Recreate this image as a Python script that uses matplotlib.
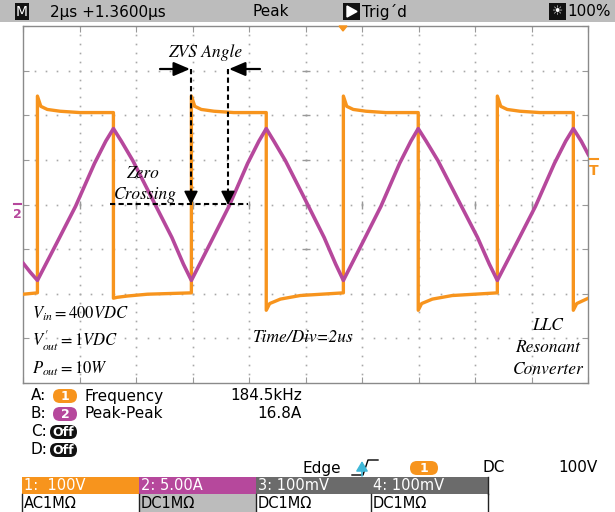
import numpy as np
import matplotlib.pyplot as plt
from matplotlib.patches import Rectangle, FancyBboxPatch, Polygon

plt.rcParams['mathtext.fontset'] = 'stix'

# CH1 switch-node voltage (V) and CH2 resonant current (A); time in us
v_time = [0.00, 0.50, 0.50, 0.62, 0.85, 1.30, 2.00, 3.19, 3.19, 3.32, 3.70, 4.40, 5.95,
          5.95, 6.07, 6.30, 6.75, 7.45, 8.60, 8.60, 8.72, 9.10, 9.80, 11.33,
          11.33, 11.45, 11.68, 12.13, 12.83, 13.98, 13.98, 14.10, 14.48, 15.18, 16.78,
          16.78, 16.90, 17.13, 17.58, 18.28, 19.47, 19.47, 19.59, 20.00]
v_volt = [-201, -198, 243, 220, 213, 209, 206, 206, -210, -208, -205, -201, -198,
          243, 220, 213, 209, 206, 206, -237, -222, -212, -204, -198,
          243, 220, 213, 209, 206, 206, -237, -222, -212, -204, -198,
          243, 220, 213, 209, 206, 206, -237, -222, -210]

i_time = [0.00, 0.25, 0.50,
          1.17, 1.85, 2.52, 2.92, 3.19,
          3.47, 3.88, 4.57, 5.26, 5.67, 5.95,
          6.61, 7.28, 7.94, 8.34, 8.60,
          8.87, 9.28, 9.97, 10.65, 11.06, 11.33,
          11.99, 12.66, 13.32, 13.72, 13.98,
          14.26, 14.68, 15.38, 16.08, 16.50, 16.78,
          17.45, 18.13, 18.80, 19.20, 19.47,
          19.75, 20.00]
i_amp = [-6.6, -7.6, -8.5,
         -4.4, -0.2, 4.6, 7.1, 8.5,
         7.1, 4.9, 0.6, -3.7, -6.7, -8.5,
         -4.4, -0.2, 4.6, 7.1, 8.5,
         7.1, 4.9, 0.6, -3.7, -6.7, -8.5,
         -4.4, -0.2, 4.6, 7.1, 8.5,
         7.1, 4.9, 0.6, -3.7, -6.7, -8.5,
         -4.4, -0.2, 4.6, 7.1, 8.5,
         7.1, 5.6]

meas_names = ['A:', 'B:', 'C:', 'D:']
meas_chan = ['1', '2', 'Off', 'Off']
meas_labels = ['Frequency', 'Peak-Peak', '', '']
meas_values = ['184.5kHz', '16.8A', '', '']
chan_labels = ['1:  100V', '2: 5.00A', '3: 100mV', '4: 100mV']
chan_coupling = ['AC1M\u03a9', 'DC1M\u03a9', 'DC1M\u03a9', 'DC1M\u03a9']

VOLT_DIV = 100.0
AMP_DIV = 5.0
ORANGE = '#f7941d'
PURPLE = '#b6489c'
UI = ['DejaVu Sans']
SERIF = 'STIXGeneral'

W, H = 615, 512
fig = plt.figure(figsize=(W / 100, H / 100), dpi=100)

# screen graticule
ax = fig.add_axes([23.3 / W, 1 - 383 / H, 565 / W, 357 / H], zorder=1)
ax.set_xlim(0, 20)
ax.set_ylim(-4, 4)
for s in ax.spines.values():
    s.set_color('#8a8a8a')
    s.set_linewidth(1)
ax.set_xticks(np.arange(0, 21, 2))
ax.set_yticks(np.arange(-4, 5, 1))
ax.tick_params(direction='in', length=4, color='#999999', labelbottom=False,
               labelleft=False, top=True, right=True)
xd = np.arange(0, 20.001, 0.4)
yd = np.arange(-4, 4.001, 0.2)
for j in range(-3, 4):
    ax.plot(xd, np.full_like(xd, j), ls='none', marker='s', ms=1.2, mew=0, color='#a8a8a8')
for k in range(2, 20, 2):
    ax.plot(np.full_like(yd, k), yd, ls='none', marker='s', ms=1.2, mew=0, color='#a8a8a8')
ax.plot(np.full(7, 10.0), np.arange(-3, 4), ls='none', marker='_', ms=6, color='#999999')
ax.plot(np.arange(2, 20, 2), np.zeros(9), ls='none', marker='|', ms=6, color='#999999')

ax.plot(v_time, np.array(v_volt) / VOLT_DIV, color=ORANGE, lw=2.4, zorder=3)
ax.plot(i_time, np.array(i_amp) / AMP_DIV, color=PURPLE, lw=2.6, zorder=4)

# overlay in pixel coordinates for annotations and scope chrome
ov = fig.add_axes([0, 0, 1, 1], zorder=2)
ov.set_xlim(0, W)
ov.set_ylim(H, 0)
ov.axis('off')
ov.patch.set_alpha(0)

# annotations
dash = (0, (2.5, 1.6))
ov.plot([110, 248], [204, 204], color='k', lw=1.5, ls=dash)
for x in [191, 228]:
    ov.plot([x, x], [69, 198], color='k', lw=1.5, ls=dash)
    ov.annotate('', xy=(x, 205), xytext=(x, 196),
                arrowprops=dict(arrowstyle='-|>,head_length=0.6,head_width=0.3',
                                color='k', lw=1.2, mutation_scale=14, shrinkA=0, shrinkB=0))
ov.annotate('', xy=(190, 69), xytext=(160, 69),
            arrowprops=dict(arrowstyle='-|>,head_length=0.7,head_width=0.3',
                            color='k', lw=1.6, mutation_scale=14, shrinkA=0, shrinkB=0))
ov.annotate('', xy=(229, 69), xytext=(260, 69),
            arrowprops=dict(arrowstyle='-|>,head_length=0.7,head_width=0.3',
                            color='k', lw=1.6, mutation_scale=14, shrinkA=0, shrinkB=0))
ov.text(205, 53, 'ZVS Angle', family=SERIF, style='italic', fontsize=12.5,
        ha='center', va='center')
ov.text(143, 174, 'Zero', family=SERIF, style='italic', fontsize=12.5, ha='center', va='center')
ov.text(145, 195, 'Crossing', family=SERIF, style='italic', fontsize=12.5, ha='center', va='center')
ov.text(32, 314, r'$V_{\mathit{in}}\mathit{=400VDC}$', fontsize=12, ha='left', va='center')
ov.text(32, 341, r"$V_{\mathit{out}}^{\prime}\mathit{=1VDC}$", fontsize=12, ha='left', va='center')
ov.text(32, 369, r'$P_{\mathit{out}}\mathit{=10W}$', fontsize=12, ha='left', va='center')
ov.text(253, 338, 'Time/Div=2us', family=SERIF, style='italic', fontsize=12.5,
        ha='left', va='center')
for txt, y in zip(['LLC', 'Resonant', 'Converter'], [326, 348, 370]):
    ov.text(548, y, txt, family=SERIF, style='italic', fontsize=12.5, ha='center', va='center')

# markers around the screen
ov.plot([14, 21], [204, 204], color=PURPLE, lw=1.5)
ov.text(17.5, 215, '2', color=PURPLE, fontsize=9, weight='bold', ha='center', va='center')
ov.plot([590, 598], [159, 159], color=ORANGE, lw=1.5)
ov.text(594, 171, 'T', color=ORANGE, fontsize=10, weight='bold', ha='center', va='center',
        family=UI)
ov.add_patch(Polygon([[339, 26], [347, 26], [343, 31]], closed=True, color=ORANGE))

# top status bar
ov.add_patch(Rectangle((0, 0), W, 22, color='#bcbcbc', lw=0))
ov.add_patch(Rectangle((15, 3), 14, 17, color='#111111', lw=0))
ov.text(22, 12, 'M', color='white', fontsize=10, ha='center', va='center', family=UI)
ov.text(50, 12, '2\u00b5s +1.3600\u00b5s', fontsize=11, ha='left', va='center', family=UI)
ov.text(252, 12, 'Peak', fontsize=11, ha='left', va='center', family=UI)
ov.add_patch(Rectangle((343, 3), 17, 17, color='#111111', lw=0))
ov.add_patch(Polygon([[347, 6], [347, 17], [357, 11.5]], closed=True, color='white'))
ov.text(362, 12, 'Trig\u00b4d', fontsize=11, ha='left', va='center', family=UI)
ov.add_patch(Rectangle((549, 3), 17, 17, color='#111111', lw=0))
ov.text(557.5, 12, '\u2600', color='white', fontsize=9, ha='center', va='center',
        family='DejaVu Sans')
ov.text(567, 12, '100%', fontsize=11, ha='left', va='center', family=UI)


def pill(x0, x1, yc, color, text):
    ov.add_patch(FancyBboxPatch((x0, yc - 7), x1 - x0, 14,
                                boxstyle='round,pad=0,rounding_size=7', color=color, lw=0))
    ov.text((x0 + x1) / 2, yc + 0.5, text, color='white', fontsize=9, weight='bold',
            ha='center', va='center', family=UI)


# measurement area
pill_colors = [ORANGE, PURPLE, '#111111', '#111111']
for n, y in enumerate([396, 414, 432, 450]):
    ov.text(31, y, meas_names[n], fontsize=11, ha='left', va='center', family=UI)
    pill(50 if meas_chan[n] == 'Off' else 53, 77, y, pill_colors[n], meas_chan[n])
    ov.text(85, y, meas_labels[n], fontsize=11, ha='left', va='center', family=UI)
    ov.text(302, y, meas_values[n], fontsize=11, ha='right', va='center', family=UI)

# trigger line
ty = 468
ov.text(302, ty, 'Edge', fontsize=11, ha='left', va='center', family=UI)
ov.plot([352, 363, 368, 378], [475, 475, 460, 460], color='k', lw=1)
ov.annotate('', xy=(362, 461), xytext=(362, 476),
            arrowprops=dict(arrowstyle='-|>,head_length=0.5,head_width=0.3',
                            color='#3fb8d8', lw=1.2, mutation_scale=12, shrinkA=0, shrinkB=0))
pill(410, 438, ty, ORANGE, '1')
ov.text(483, ty, 'DC', fontsize=11, ha='left', va='center', family=UI)
ov.text(598, ty, '100V', fontsize=11, ha='right', va='center', family=UI)

# channel settings boxes
edges = [22, 139, 256, 371, 488]
top_colors = [ORANGE, PURPLE, '#6b6b6b', '#6b6b6b']
bot_colors = ['white', '#bcbcbc', 'white', 'white']
for n in range(4):
    x0, x1 = edges[n], edges[n + 1]
    ov.add_patch(Rectangle((x0, 477), x1 - x0, 17, color=top_colors[n], lw=0))
    ov.add_patch(Rectangle((x0, 494), x1 - x0, 18, color=bot_colors[n], lw=0))
    ov.text(x0 + 2, 485.5, chan_labels[n], color='white', fontsize=10.5, ha='left',
            va='center', family=UI)
    ov.text(x0 + 2, 503, chan_coupling[n], color='black', fontsize=10.5, ha='left',
            va='center', family=UI)
for x in edges:
    ov.plot([x, x], [494, 512], color='#222222', lw=1)
ov.plot([488, 488], [477, 494], color='#222222', lw=1)

fig.savefig('out.png', dpi=100, facecolor='white')
